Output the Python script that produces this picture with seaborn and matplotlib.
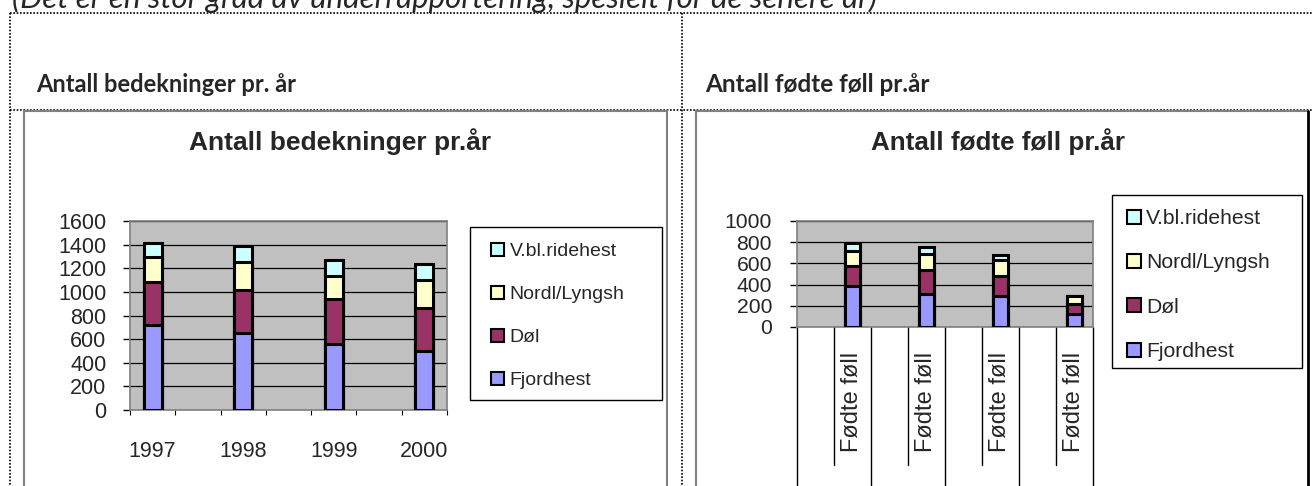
import numpy as np
import pandas as pd
import matplotlib
matplotlib.use("Agg")
import matplotlib.pyplot as plt
import seaborn as sns
from matplotlib.patches import Patch, Rectangle
from matplotlib.lines import Line2D
import matplotlib.transforms as mtransforms

# data
years = ["1997", "1998", "1999", "2000"]
series_names = ["Fjordhest", "Døl", "Nordl/Lyngsh", "V.bl.ridehest"]
series_colors = ["#9999FF", "#993366", "#FFFFCC", "#CCFFFF"]

bed_fjord = [720, 655, 560, 497]
bed_dol = [365, 360, 378, 370]
bed_nordl = [210, 235, 200, 234]
bed_vbl = [115, 135, 132, 136]

foll_fjord = [384, 315, 290, 126]
foll_dol = [195, 220, 190, 94]
foll_nordl = [138, 157, 148, 72]
foll_vbl = [76, 63, 47, 0]
foll_label = "Fødte føll"

W, H = 1312, 486

sns.set_style("ticks")
plt.rcParams["font.family"] = ["Liberation Sans", "DejaVu Sans"]

fig = plt.figure(figsize=(W / 100, H / 100), dpi=100)


def fx(x):
    return x / W


def fy(y):
    return 1 - y / H


def fline(x0, y0, x1, y1, **kw):
    fig.add_artist(Line2D([fx(x0), fx(x1)], [fy(y0), fy(y1)], transform=fig.transFigure, **kw))


# page decoration (word table with dotted borders)
dot = dict(color="black", lw=1.2, linestyle=(0, (1, 1)))
fline(10, 13, W, 13, **dot)
fline(10, 110, W, 110, **dot)
fline(10, 13, 10, H, **dot)
fline(682, 13, 682, H, **dot)

# sentence above the table, cut at the top edge as in the page snippet
fig.text(fx(12), fy(8), "(Det er en stor grad av underrapportering, spesielt for de senere år)",
         fontsize=22.5, style="italic", family="Lato", va="baseline", ha="left")
fig.text(fx(36), fy(84), "Antall bedekninger pr. år", fontsize=17, weight="bold",
         family="Lato", va="center", ha="left")
fig.text(fx(705), fy(84), "Antall fødte føll pr.år", fontsize=17.5, weight="bold",
         family="Lato", va="center", ha="left")

# chart frames
gray = "#808080"
fline(24, 111, 667, 111, color=gray, lw=1.5)
fline(24, 111, 24, H, color=gray, lw=1.5)
fline(667, 111, 667, H, color=gray, lw=1.5)
fline(696, 111, 1308, 111, color=gray, lw=1.5)
fline(696, 111, 696, H, color=gray, lw=1.5)
fline(1308, 111, 1308, H, color="black", lw=2)

fig.text(fx(340), fy(142), "Antall bedekninger pr.år", fontsize=19, weight="bold",
         ha="center", va="center")
fig.text(fx(998), fy(142), "Antall fødte føll pr.år", fontsize=18.7, weight="bold",
         ha="center", va="center")


def stacked(ax, keys, order, layers, ymax):
    tops = np.cumsum(np.array(layers), axis=0)
    df = pd.DataFrame({"slot": keys})
    for i in range(len(layers)):
        df[series_names[i]] = tops[i]
    # draw tallest first so lower segments sit on top
    for i in reversed(range(len(layers))):
        sns.barplot(data=df, x="slot", y=series_names[i], order=order, color=series_colors[i],
                    saturation=1, width=0.4, edgecolor="black", linewidth=2.2,
                    errorbar=None, ax=ax, zorder=3)
    ax.set_facecolor("#C0C0C0")
    ax.set_ylim(0, ymax)
    ax.set_yticks(np.arange(0, ymax + 1, 200))
    ax.yaxis.grid(True, color="black", lw=0.9)
    ax.set_axisbelow(True)
    ax.set_xlim(-0.5, len(order) - 0.5)
    ax.set_xlabel("")
    ax.set_ylabel("")
    for s in ax.spines.values():
        s.set_color(gray)
        s.set_linewidth(1.2)
    ax.tick_params(axis="y", length=5, width=1, color="black", pad=12, labelsize=15.5)


# left chart: bedekninger
ax1 = fig.add_axes([fx(130), fy(410), fx(447 - 130), (410 - 221) / H])
order1 = []
for i, y in enumerate(years):
    order1.append(y)
    if i < len(years) - 1:
        order1.append("gap%d" % i)
stacked(ax1, years, order1, [bed_fjord, bed_dol, bed_nordl, bed_vbl], 1600)
ax1.set_xticks(np.arange(-0.5, len(order1)), labels=[])
ax1.tick_params(axis="x", which="major", length=3.5, color="black", direction="out")
ax1.set_xticks([order1.index(y) for y in years], labels=years, minor=True)
ax1.tick_params(axis="x", which="minor", length=0, pad=22, labelsize=15.5)

# right chart: fødte føll
ax2 = fig.add_axes([fx(797), fy(327), fx(1093 - 797), (327 - 221) / H])
keys2 = ["f" + y for y in years]
order2 = []
for i, k in enumerate(keys2):
    order2.append("gap%d" % i)
    order2.append(k)
stacked(ax2, keys2, order2, [foll_fjord, foll_dol, foll_nordl, foll_vbl], 1000)
ax2.tick_params(axis="y", labelsize=15.2, pad=13)
ax2.set_xticks([order2.index(k) for k in keys2], labels=[foll_label] * len(keys2))
ax2.tick_params(axis="x", length=0, pad=18, labelsize=17, labelrotation=90)
trans = mtransforms.blended_transform_factory(ax2.transData, ax2.transAxes)
for b in np.arange(-0.5, len(order2)):
    low = -1.6 if int(b + 0.5) % 2 == 0 else -1.3
    ax2.plot([b, b], [0, low], transform=trans, color="black", lw=1, clip_on=False)

# legends
handles = [Patch(facecolor=series_colors[i], edgecolor="black", lw=1.5) for i in (3, 2, 1, 0)]
labels = [series_names[i] for i in (3, 2, 1, 0)]

fig.add_artist(Rectangle((fx(470), fy(400)), fx(662 - 470), (400 - 227) / H,
                         transform=fig.transFigure, fill=False, edgecolor="black", lw=1))
fig.legend(handles, labels, loc="upper left", bbox_to_anchor=(fx(491), fy(243)),
           frameon=False, fontsize=14, labelspacing=1.32, handlelength=0.65, handleheight=0.65,
           handletextpad=0.3, borderpad=0, borderaxespad=0)

fig.add_artist(Rectangle((fx(1112), fy(368)), fx(1302 - 1112), (368 - 195) / H,
                         transform=fig.transFigure, fill=False, edgecolor="black", lw=1))
fig.legend(handles, labels, loc="upper left", bbox_to_anchor=(fx(1127), fy(209)),
           frameon=False, fontsize=15.2, labelspacing=1.2, handlelength=0.65, handleheight=0.65,
           handletextpad=0.25, borderpad=0, borderaxespad=0)

fig.savefig("out.png", dpi=100)
